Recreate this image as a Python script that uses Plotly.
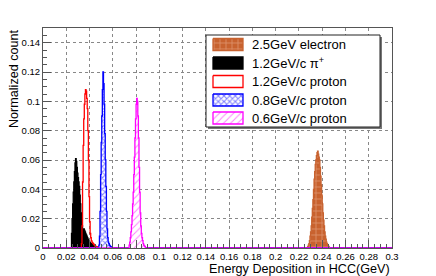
import numpy as np
import plotly.graph_objects as go

# ---------------- data ----------------
BIN_WIDTH = 0.0005
X_MIN, X_MAX = 0.0, 0.3
Y_MIN, Y_MAX = 0.0, 0.15

x_tick_vals = [0, 0.02, 0.04, 0.06, 0.08, 0.1, 0.12, 0.14, 0.16, 0.18, 0.2, 0.22, 0.24, 0.26, 0.28, 0.3]
x_tick_text = ["0", "0.02", "0.04", "0.06", "0.08", "0.1", "0.12", "0.14", "0.16", "0.18", "0.2",
               "0.22", "0.24", "0.26", "0.28", "0.3"]
y_tick_vals = [0, 0.02, 0.04, 0.06, 0.08, 0.1, 0.12, 0.14]
y_tick_text = ["0", "0.02", "0.04", "0.06", "0.08", "0.1", "0.12", "0.14"]

series_names = ["2.5GeV electron", "1.2GeV/c \u03c0<sup>+</sup>", "1.2GeV/c proton",
                "0.8GeV/c proton", "0.6GeV/c proton"]

# first bin lower edge, then bin contents (bin width 0.0005)
electron_start = 0.2275
electron_counts = [0.001, 0.002, 0.003, 0.005, 0.008, 0.011, 0.015, 0.021, 0.027, 0.033,
                   0.040, 0.047, 0.052, 0.057, 0.060, 0.063, 0.065, 0.066, 0.064, 0.062,
                   0.060, 0.055, 0.049, 0.043, 0.036, 0.030, 0.024, 0.019, 0.015, 0.011,
                   0.008, 0.006, 0.004, 0.003, 0.002, 0.0015, 0.001]

pion_start = 0.0245
pion_counts = [0.010, 0.020, 0.030, 0.038, 0.045, 0.052, 0.058, 0.061, 0.059, 0.055,
               0.051, 0.048, 0.045, 0.042, 0.036, 0.030, 0.024, 0.019, 0.015, 0.012,
               0.012, 0.013, 0.012, 0.011, 0.010, 0.009, 0.008, 0.007, 0.006, 0.005,
               0.0045, 0.004, 0.0035, 0.003, 0.003, 0.0025, 0.002, 0.002, 0.0015, 0.0015,
               0.0012, 0.001, 0.0008, 0.0006, 0.0005, 0.0004, 0.0003]

proton12_start = 0.0330
proton12_counts = [0.003, 0.015, 0.045, 0.070, 0.088, 0.098, 0.105, 0.108, 0.107, 0.102,
                   0.095, 0.080, 0.060, 0.035, 0.018, 0.010, 0.007, 0.005, 0.004, 0.0035,
                   0.003, 0.0025, 0.002, 0.0015, 0.0012, 0.001, 0.0008, 0.0006, 0.0005,
                   0.0004, 0.0003, 0.0002]

proton08_start = 0.0480
proton08_counts = [0.002, 0.008, 0.025, 0.050, 0.072, 0.090, 0.108, 0.120, 0.112, 0.098,
                   0.078, 0.060, 0.042, 0.025, 0.013, 0.007, 0.004, 0.003, 0.002, 0.0015,
                   0.001, 0.0008, 0.0005]

proton06_start = 0.0740
proton06_counts = [0.002, 0.004, 0.007, 0.011, 0.016, 0.022, 0.030, 0.038, 0.050, 0.062,
                   0.075, 0.088, 0.098, 0.102, 0.100, 0.090, 0.075, 0.055, 0.038, 0.024,
                   0.015, 0.010, 0.007, 0.005, 0.003, 0.002, 0.0015, 0.001]

# ---------------- styles ----------------
FONT = "Liberation Sans, Arial, Helvetica, sans-serif"
ORANGE = "#c8622f"
styles = [
    dict(line=ORANGE, fill="tozeroy", fillcolor=ORANGE,
         pattern=dict(shape="+", bgcolor=ORANGE, fgcolor="#f3c6aa", size=6, solidity=0.25)),
    dict(line="#000000", fill="tozeroy", fillcolor="#000000", pattern=None),
    dict(line="#ff0000", fill="none", fillcolor="white", pattern=None),
    dict(line="#0000ff", fill="tozeroy", fillcolor="white",
         pattern=dict(shape="x", bgcolor="white", fgcolor="#0000ff", size=4, solidity=0.45)),
    dict(line="#ff00ff", fill="tozeroy", fillcolor="white",
         pattern=dict(shape="/", bgcolor="white", fgcolor="#ff00ff", size=5, solidity=0.2)),
]

# page offset of the figure div (default body margin)
OFF = 8
# window size and desired plot area in window pixels
WIN_W, WIN_H = 436, 276
PL, PR, PT, PB = 43, 392, 28, 248
W, H = WIN_W - OFF, WIN_H - OFF

# legend geometry (window pixels)
LEG_BOX = (206, 35, 380, 127)
LEG_SHADOW = 2
SWATCH_X = (213, 243)
SWATCH_HALF_H = 6
LEG_ROWS_Y = [44.5, 63, 81.5, 100, 118]
LEG_TEXT_X = 250

# ---------------- build ----------------
n_bins = int(round((X_MAX - X_MIN) / BIN_WIDTH))
edges = X_MIN + BIN_WIDTH * np.arange(n_bins + 1)


def full_hist(start, counts):
    h = np.zeros(n_bins)
    i0 = int(round((start - X_MIN) / BIN_WIDTH))
    h[i0:i0 + len(counts)] = counts
    return np.append(h, h[-1])


all_series = [
    (electron_start, electron_counts),
    (pion_start, pion_counts),
    (proton12_start, proton12_counts),
    (proton08_start, proton08_counts),
    (proton06_start, proton06_counts),
]

fig = go.Figure()
for (start, counts), st, name in zip(all_series, styles, series_names):
    kw = dict(x=edges, y=full_hist(start, counts), mode="lines",
              line=dict(shape="hv", color=st["line"], width=1.3),
              name=name, showlegend=False, hoverinfo="skip")
    if st["fill"] != "none":
        kw["fill"] = st["fill"]
        kw["fillcolor"] = st["fillcolor"]
        if st["pattern"]:
            kw["fillpattern"] = st["pattern"]
    fig.add_trace(go.Scatter(**kw))


def rect(x0, y0, x1, y1):
    return [x0, x1, x1, x0, x0], [y0, y0, y1, y1, y0]


# legend shadow + box
rx, ry = rect(LEG_BOX[0] + LEG_SHADOW, LEG_BOX[1] + LEG_SHADOW,
              LEG_BOX[2] + LEG_SHADOW, LEG_BOX[3] + LEG_SHADOW)
fig.add_trace(go.Scatter(x=rx, y=ry, xaxis="x2", yaxis="y2", mode="lines", fill="toself",
                         fillcolor="#777777", line=dict(color="#777777", width=0),
                         showlegend=False, hoverinfo="skip"))
rx, ry = rect(*LEG_BOX)
fig.add_trace(go.Scatter(x=rx, y=ry, xaxis="x2", yaxis="y2", mode="lines", fill="toself",
                         fillcolor="white", line=dict(color="#222222", width=1),
                         showlegend=False, hoverinfo="skip"))

for yc, st, name in zip(LEG_ROWS_Y, styles, series_names):
    rx, ry = rect(SWATCH_X[0], yc - SWATCH_HALF_H, SWATCH_X[1], yc + SWATCH_HALF_H)
    kw = dict(x=rx, y=ry, xaxis="x2", yaxis="y2", mode="lines", fill="toself",
              fillcolor=st["fillcolor"], line=dict(color=st["line"], width=1.3),
              showlegend=False, hoverinfo="skip")
    if st["pattern"]:
        kw["fillpattern"] = st["pattern"]
    fig.add_trace(go.Scatter(**kw))
    fig.add_annotation(x=LEG_TEXT_X, y=yc, xref="x2", yref="y2", text=name,
                       showarrow=False, xanchor="left", yanchor="middle",
                       font=dict(family=FONT, size=13, color="black"))

axis_common = dict(showline=True, linecolor="#555555", linewidth=1, mirror=True,
                   ticks="inside", ticklen=8, tickwidth=1, tickcolor="#555555",
                   showgrid=True, gridcolor="#888888", griddash="dot", gridwidth=1,
                   zeroline=False, tickfont=dict(family=FONT, size=9.5, color="black"))

fig.update_layout(
    width=W, height=H,
    margin=dict(l=PL - OFF, r=WIN_W - PR, t=PT - OFF, b=WIN_H - PB, pad=0),
    paper_bgcolor="white", plot_bgcolor="white",
    xaxis=dict(range=[X_MIN, X_MAX], tickvals=x_tick_vals, ticktext=x_tick_text,
               minor=dict(dtick=0.005, ticks="inside", ticklen=4, tickcolor="#555555", showgrid=False),
               **axis_common),
    yaxis=dict(range=[Y_MIN, Y_MAX], tickvals=y_tick_vals, ticktext=y_tick_text,
               minor=dict(dtick=0.005, ticks="inside", ticklen=4, tickcolor="#555555", showgrid=False),
               **axis_common),
    xaxis2=dict(overlaying="x", range=[PL, PR], visible=False, fixedrange=True),
    yaxis2=dict(overlaying="y", range=[PB, PT], visible=False, fixedrange=True),
    showlegend=False,
)

fig.add_annotation(x=1, y=0, xref="paper", yref="paper", text="Energy Deposition in HCC(GeV)",
                   showarrow=False, xanchor="right", yanchor="top", yshift=-12,
                   font=dict(family=FONT, size=12.6, color="black"))
fig.add_annotation(x=(14 - PL) / (PR - PL), y=1, xref="paper", yref="paper", text="Normalized count",
                   showarrow=False, textangle=-90, xanchor="center", yanchor="top",
                   font=dict(family=FONT, size=12.6, color="black"))

fig.write_html("out.html")
